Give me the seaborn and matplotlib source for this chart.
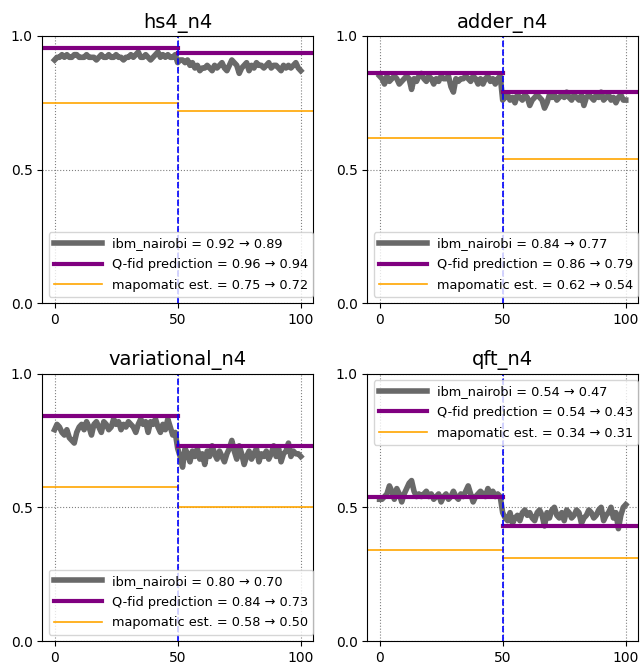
import matplotlib
matplotlib.use("Agg")
import matplotlib.pyplot as plt
import seaborn as sns
import numpy as np
import pandas as pd

titles = ["hs4_n4", "adder_n4", "variational_n4", "qft_n4"]

hs4_vals = [0.91,0.92,0.92,0.93,0.92,0.93,0.92,0.92,0.93,0.93,0.92,0.92,0.92,0.93,0.92,0.92,0.92,0.91,0.92,0.93,
            0.92,0.92,0.93,0.92,0.92,0.93,0.92,0.92,0.91,0.92,0.92,0.93,0.92,0.93,0.94,0.92,0.92,0.93,0.92,0.91,
            0.92,0.93,0.94,0.92,0.93,0.92,0.93,0.92,0.92,0.93,0.90,
            0.91,0.91,0.90,0.91,0.89,0.90,0.88,0.89,0.87,0.88,0.88,0.89,0.88,0.87,0.89,0.88,0.89,0.90,0.88,0.87,
            0.89,0.91,0.90,0.89,0.86,0.88,0.89,0.90,0.87,0.89,0.88,0.90,0.89,0.89,0.88,0.89,0.90,0.88,0.89,0.89,
            0.88,0.87,0.89,0.88,0.89,0.88,0.89,0.90,0.88,0.87]
adder_vals = [0.85,0.84,0.82,0.85,0.83,0.84,0.85,0.84,0.82,0.83,0.84,0.85,0.84,0.80,0.84,0.83,0.85,0.86,0.84,0.83,
              0.85,0.84,0.82,0.84,0.83,0.85,0.84,0.84,0.85,0.81,0.79,0.84,0.83,0.84,0.84,0.85,0.84,0.83,0.85,0.84,
              0.82,0.84,0.82,0.84,0.85,0.83,0.84,0.82,0.84,0.85,0.76,
              0.77,0.78,0.76,0.77,0.75,0.78,0.77,0.76,0.78,0.77,0.74,0.76,0.77,0.78,0.77,0.76,0.73,0.75,0.78,0.77,
              0.78,0.76,0.77,0.78,0.77,0.79,0.77,0.76,0.78,0.77,0.76,0.78,0.74,0.77,0.78,0.77,0.76,0.78,0.77,0.79,
              0.76,0.77,0.78,0.76,0.77,0.75,0.77,0.78,0.76,0.76]
variational_vals = [0.79,0.81,0.80,0.78,0.77,0.79,0.76,0.75,0.74,0.78,0.80,0.81,0.79,0.82,0.80,0.77,0.81,0.82,0.80,0.78,
                    0.82,0.81,0.79,0.80,0.83,0.81,0.82,0.79,0.81,0.80,0.82,0.81,0.80,0.78,0.81,0.83,0.81,0.82,0.78,0.82,
                    0.81,0.83,0.80,0.78,0.81,0.79,0.83,0.80,0.77,0.78,0.72,
                    0.69,0.65,0.72,0.70,0.67,0.71,0.69,0.72,0.68,0.70,0.66,0.71,0.69,0.73,0.70,0.68,0.71,0.69,0.67,0.70,
                    0.72,0.75,0.71,0.68,0.73,0.70,0.66,0.69,0.71,0.68,0.70,0.72,0.67,0.70,0.69,0.71,0.68,0.70,0.73,0.69,
                    0.72,0.67,0.70,0.71,0.74,0.69,0.71,0.70,0.70,0.69]
qft_vals = [0.53,0.53,0.54,0.55,0.58,0.56,0.53,0.57,0.55,0.52,0.55,0.57,0.59,0.60,0.56,0.54,0.55,0.54,0.55,0.56,
            0.54,0.55,0.53,0.54,0.55,0.52,0.54,0.55,0.53,0.54,0.56,0.54,0.53,0.55,0.54,0.56,0.58,0.55,0.52,0.54,
            0.55,0.56,0.55,0.54,0.57,0.55,0.56,0.54,0.55,0.54,0.48,
            0.46,0.45,0.48,0.44,0.46,0.47,0.45,0.48,0.49,0.47,0.48,0.46,0.45,0.48,0.49,0.47,0.43,0.48,0.46,0.49,
            0.50,0.47,0.46,0.48,0.45,0.49,0.48,0.46,0.47,0.49,0.48,0.44,0.46,0.47,0.49,0.48,0.46,0.47,0.49,0.50,
            0.45,0.47,0.48,0.50,0.46,0.48,0.42,0.47,0.50,0.51]
series = [hs4_vals, adder_vals, variational_vals, qft_vals]

ibm_before = [0.92, 0.84, 0.80, 0.54]
ibm_after = [0.89, 0.77, 0.70, 0.47]
qfid_before = [0.955, 0.86, 0.84, 0.54]
qfid_after = [0.935, 0.79, 0.73, 0.43]
mapo_before = [0.75, 0.62, 0.575, 0.34]
mapo_after = [0.72, 0.54, 0.50, 0.31]
qfid_lbl_before = ["0.96", "0.86", "0.84", "0.54"]
qfid_lbl_after = ["0.94", "0.79", "0.73", "0.43"]
mapo_lbl_before = ["0.75", "0.62", "0.58", "0.34"]
mapo_lbl_after = ["0.72", "0.54", "0.50", "0.31"]
legend_locs = ["lower left", "lower left", "lower left", "upper left"]

x_split = 50

fig, axes = plt.subplots(2, 2, figsize=(6.4, 6.65), dpi=100)
fig.subplots_adjust(left=0.066, right=0.997, top=0.946, bottom=0.036, wspace=0.2, hspace=0.262)
for i, ax in enumerate(axes.flat):
    vals = series[i]
    df = pd.DataFrame({"t": np.arange(len(vals)), "fid": vals})
    sns.lineplot(data=df, x="t", y="fid", ax=ax, color="dimgray", linewidth=4,
                 label=f"ibm_nairobi = {ibm_before[i]:.2f} → {ibm_after[i]:.2f}")
    ax.axhline(qfid_before[i], xmin=0, xmax=0.5, color="purple", linewidth=3,
               label=f"Q-fid prediction = {qfid_lbl_before[i]} → {qfid_lbl_after[i]}")
    ax.axhline(qfid_after[i], xmin=0.5, xmax=1, color="purple", linewidth=3)
    ax.axhline(mapo_before[i], xmin=0, xmax=0.5, color="orange", linewidth=1.2,
               label=f"mapomatic est. = {mapo_lbl_before[i]} → {mapo_lbl_after[i]}")
    ax.axhline(mapo_after[i], xmin=0.5, xmax=1, color="orange", linewidth=1.2)
    ax.axvline(x_split, color="blue", linestyle="--", linewidth=1.2)
    ax.set_xlim(-5, 105)
    ax.set_ylim(0, 1.0)
    ax.set_xticks([0, 50, 100])
    ax.set_yticks([0.0, 0.5, 1.0])
    ax.grid(True, linestyle=":", color="gray", linewidth=0.8)
    ax.set_xlabel("")
    ax.set_ylabel("")
    ax.set_title(titles[i], fontsize=14)
    ax.legend(loc=legend_locs[i], fontsize=9.3, handlelength=3.7, labelspacing=0.6)

fig.savefig("out.png", dpi=100)
